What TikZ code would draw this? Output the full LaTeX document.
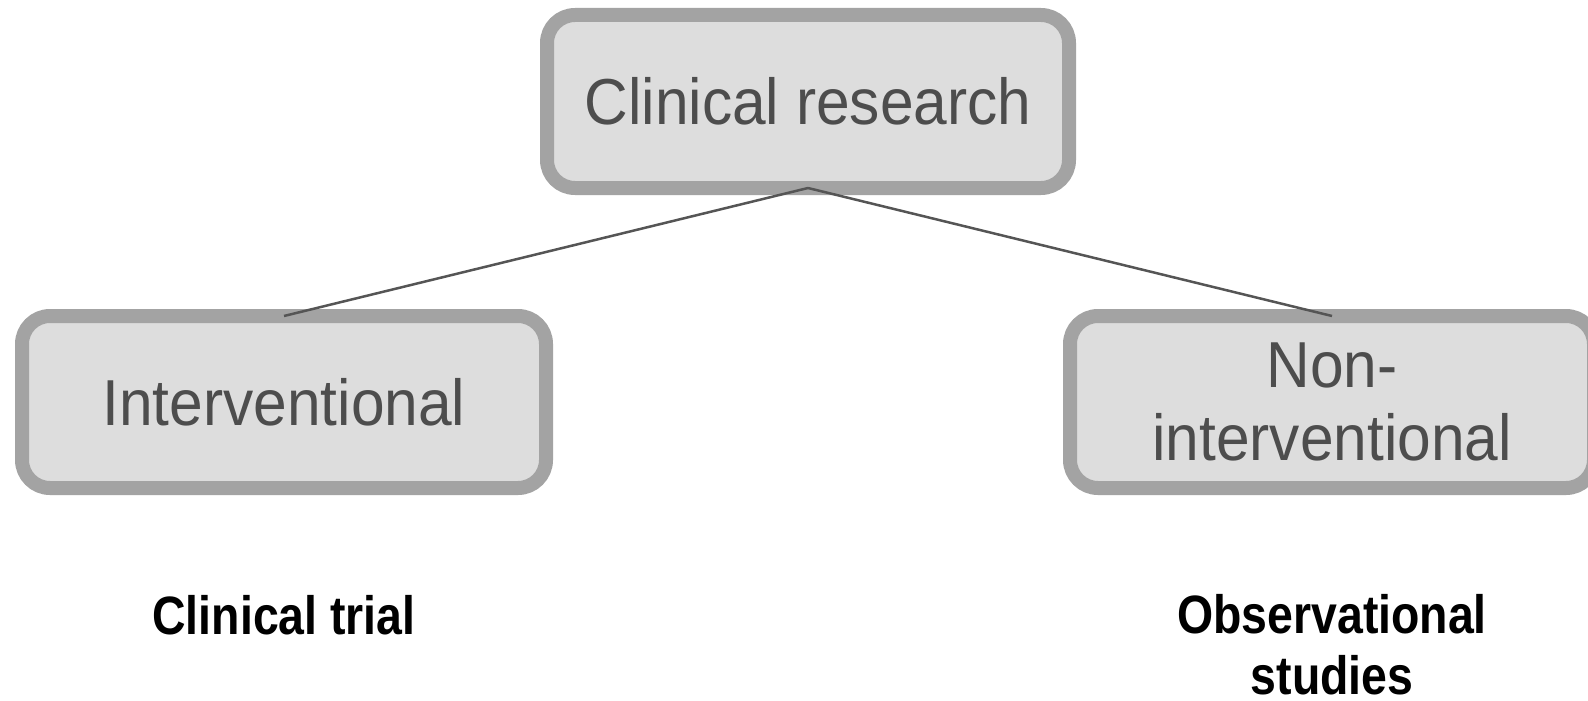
\documentclass[tikz,border=0pt]{standalone}
\usepackage{fontspec}
\newfontfamily\boxfont[FakeStretch=0.93]{Liberation Sans}
\newfontfamily\labfont[FakeStretch=0.86]{Liberation Sans}
\definecolor{boxfill}{HTML}{DDDDDD}
\definecolor{boxline}{HTML}{A3A3A3}
\definecolor{boxtext}{HTML}{4D4D4D}
\definecolor{connline}{HTML}{555555}
\tikzset{
  catbox/.style={draw=boxline, fill=boxfill, line width=14pt, rounded corners=28pt,
    inner sep=0pt, outer sep=0pt, align=center, text=boxtext,
    font=\boxfont\fontsize{65}{73}\selectfont},
  conn/.style={draw=connline, line width=2.5pt},
  lab/.style={inner sep=0pt, anchor=base, align=center, text=black,
    font=\labfont\bfseries\fontsize{54}{61}\selectfont}
}
\begin{document}
\begin{tikzpicture}[x=1pt,y=-1pt]
\useasboundingbox (0,0) rectangle (1588,701);
\node[catbox, minimum width=522pt, minimum height=173pt] (top) at (808,101.5) {Clinical research};
\node[catbox, minimum width=524pt, minimum height=172pt] (left) at (284,402) {Interventional};
\node[catbox, minimum width=524pt, minimum height=172pt] (right) at (1332,402) {\raisebox{-2pt}{Non-}\\\raisebox{-2pt}{interventional}};
\draw[conn] (top.south) -- (left.north);
\draw[conn] (top.south) -- (right.north);
\node[lab] (trial) at (284,634) {Clinical trial};
\node[lab] (obs) at (1332,694) {Observational\\studies};
\end{tikzpicture}
\end{document}
